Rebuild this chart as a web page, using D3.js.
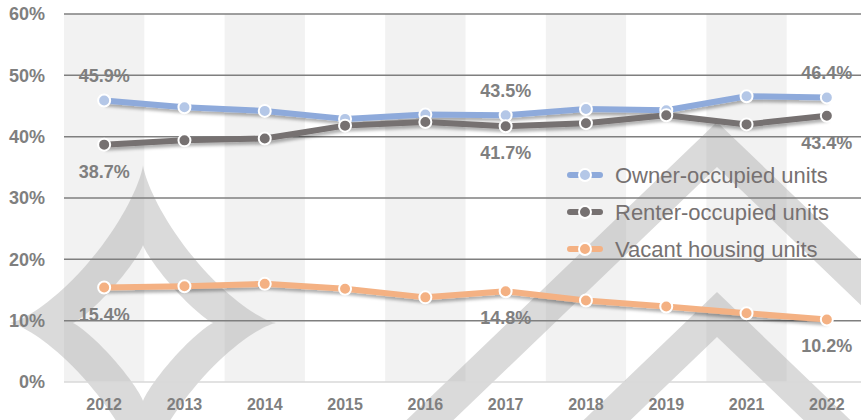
<!DOCTYPE html>
<html>
<head>
<meta charset="utf-8">
<script src="https://cdn.jsdelivr.net/npm/d3@7"></script>
<style>
  body { margin: 0; background: #fff; }
  svg { display: block; font-family: "Liberation Sans", Arial, sans-serif; }
</style>
</head>
<body>
<div id="chart"></div>
<script>
"use strict";

// data
const years = ["2012", "2013", "2014", "2015", "2016", "2017", "2018", "2019", "2021", "2022"];
const ownerOccupied = [45.9, 44.8, 44.2, 42.9, 43.6, 43.5, 44.5, 44.3, 46.6, 46.4];
const renterOccupied = [38.7, 39.4, 39.7, 41.8, 42.4, 41.7, 42.2, 43.5, 42.0, 43.4];
const vacantUnits = [15.4, 15.6, 16.0, 15.2, 13.8, 14.8, 13.3, 12.3, 11.2, 10.2];
const yTicks = [0, 10, 20, 30, 40, 50, 60];
const labelledYears = ["2012", "2017", "2022"];

const series = [
    { name: "Owner-occupied units", values: ownerOccupied, line: "#8eaadb", dot: "#b4c7e7", labelPos: "above" },
    { name: "Renter-occupied units", values: renterOccupied, line: "#767171", dot: "#767171", labelPos: "below" },
    { name: "Vacant housing units", values: vacantUnits, line: "#f4b183", dot: "#f4b183", labelPos: "below" }
];

const width = 861, height = 420;
const margin = { top: 14, right: -6, bottom: 38, left: 64 };

const svg = d3.select("#chart").append("svg")
    .attr("width", width)
    .attr("height", height);

const x = d3.scaleBand()
    .domain(years)
    .range([margin.left, width - margin.right])
    .padding(0);

const y = d3.scaleLinear()
    .domain([0, 60])
    .range([height - margin.bottom, margin.top]);

// shadow under the lines
const defs = svg.append("defs");
defs.append("filter")
    .attr("id", "shadow")
    .attr("x", "-5%").attr("y", "-50%")
    .attr("width", "110%").attr("height", "200%")
    .append("feDropShadow")
    .attr("dx", 1).attr("dy", 3)
    .attr("stdDeviation", 1.8)
    .attr("flood-color", "#000")
    .attr("flood-opacity", 0.3);

// alternating column bands
svg.append("g").selectAll("rect")
    .data(years.filter((d, i) => i % 2 === 0))
    .join("rect")
    .attr("x", d => x(d))
    .attr("y", y(60))
    .attr("width", x.bandwidth())
    .attr("height", y(0) - y(60))
    .style("fill", "#f2f2f2");

// watermark shapes
const mark = svg.append("g").style("fill", "#a6a6a6").style("fill-opacity", 0.42);

// four-pointed star with concave sides (superellipse, n < 1)
function star(cx, cy, a, b, n) {
    let e = 2 / n;
    let pts = d3.range(0, 360, 2).map(deg => {
        let t = deg * Math.PI / 180;
        let c = Math.cos(t), s = Math.sin(t);
        return [cx + a * Math.sign(c) * Math.pow(Math.abs(c), e),
                cy + b * Math.sign(s) * Math.pow(Math.abs(s), e)];
    });
    return "M" + pts.join("L") + "Z";
}

mark.append("path")
    .attr("d", star(143, 323, 133, 158, 0.75) + star(143, 323, 70, 78, 0.85))
    .attr("fill-rule", "evenodd");

function chevron(cx, top, thick, slope) {
    let bottom = 480;
    let outer = (bottom - top) / slope;
    let inner = (bottom - top - thick) / slope;
    return [[cx - outer, bottom], [cx, top], [cx + outer, bottom],
            [cx + inner, bottom], [cx, top + thick], [cx - inner, bottom]];
}

mark.selectAll("polygon")
    .data([chevron(717, 122, 45, 0.96), chevron(717, 292, 45, 0.96)])
    .join("polygon")
    .attr("points", d => d.join(" "));

// grid lines
svg.append("g").selectAll("line")
    .data(yTicks)
    .join("line")
    .attr("x1", margin.left)
    .attr("x2", width)
    .attr("y1", d => y(d))
    .attr("y2", d => y(d))
    .style("stroke", d => d === 0 ? "#d9d9d9" : "#7f7f7f")
    .style("stroke-width", 1.5);

// y axis labels
svg.append("g").selectAll("text")
    .data(yTicks)
    .join("text")
    .attr("x", 45)
    .attr("y", d => y(d))
    .attr("dy", "0.35em")
    .attr("text-anchor", "end")
    .style("font-size", "18px")
    .style("font-weight", "bold")
    .style("fill", "#7f7f7f")
    .text(d => d + "%");

// x axis labels
svg.append("g").selectAll("text")
    .data(years)
    .join("text")
    .attr("x", d => x(d) + x.bandwidth() / 2)
    .attr("y", 410)
    .attr("text-anchor", "middle")
    .style("font-size", "16px")
    .style("font-weight", "bold")
    .style("fill", "#7f7f7f")
    .text(d => d);

const cx = (d, i) => x(years[i]) + x.bandwidth() / 2;
const line = d3.line()
    .x(cx)
    .y(d => y(d));

// lines
const lines = svg.append("g");
series.forEach(s => {
    lines.append("path")
        .datum(s.values)
        .attr("d", line)
        .attr("filter", "url(#shadow)")
        .style("fill", "none")
        .style("stroke", s.line)
        .style("stroke-width", 6)
        .style("stroke-linejoin", "round");
});

// markers
series.forEach(s => {
    svg.append("g").selectAll("circle")
        .data(s.values)
        .join("circle")
        .attr("cx", cx)
        .attr("cy", d => y(d))
        .attr("r", 6)
        .style("fill", s.dot)
        .style("stroke", "#fff")
        .style("stroke-width", 2);
});

// data labels
series.forEach(s => {
    svg.append("g").selectAll("text")
        .data(s.values.map((v, i) => ({ v: v, i: i })).filter(d => labelledYears.includes(years[d.i])))
        .join("text")
        .attr("x", d => cx(d.v, d.i))
        .attr("y", d => s.labelPos === "above" ? y(d.v) - 18 : y(d.v) + 33)
        .attr("text-anchor", "middle")
        .style("font-size", "18px")
        .style("font-weight", "bold")
        .style("fill", "#7f7f7f")
        .text(d => d.v.toFixed(1) + "%");
});

// legend
const legend = svg.append("g")
    .selectAll("g")
    .data(series)
    .join("g")
    .attr("transform", (d, i) => `translate(585, ${175 + i * 37})`);

legend.append("line")
    .attr("x1", -15).attr("x2", 15)
    .style("stroke", d => d.line)
    .style("stroke-width", 6)
    .style("stroke-linecap", "round");

legend.append("circle")
    .attr("r", 6)
    .style("fill", d => d.dot)
    .style("stroke", "#fff")
    .style("stroke-width", 2);

legend.append("text")
    .attr("x", 30)
    .attr("dy", "0.35em")
    .style("font-size", "22px")
    .style("fill", "#767171")
    .text(d => d.name);
</script>
</body>
</html>
